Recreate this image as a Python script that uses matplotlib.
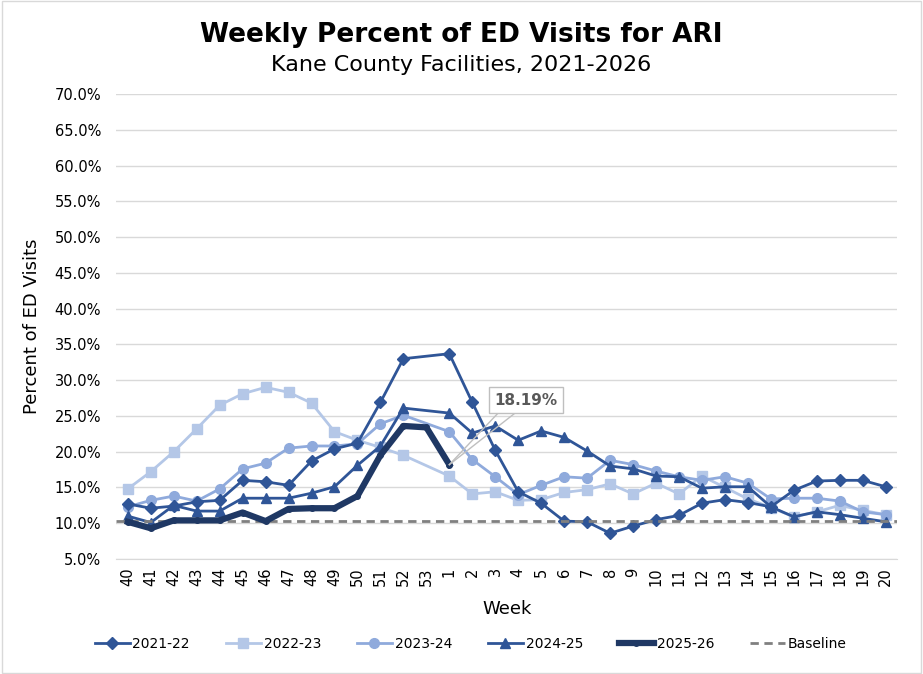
import numpy as np
import matplotlib.pyplot as plt

weeks = ['40', '41', '42', '43', '44', '45', '46', '47', '48', '49', '50', '51', '52', '53',
         '1', '2', '3', '4', '5', '6', '7', '8', '9', '10', '11', '12', '13', '14', '15',
         '16', '17', '18', '19', '20']

nan = np.nan
s2122 = [12.7, 12.1, 12.4, 13.0, 13.2, 16.0, 15.8, 15.3, 18.7, 20.4, 21.2, 26.9, 33.0, nan,
         33.7, 26.9, 20.2, 14.4, 12.8, 10.3, 10.2, 8.6, 9.6, 10.5, 11.1, 12.8, 13.3, 12.9, 12.3,
         14.6, 15.9, 16.0, 16.0, 15.1]
s2223 = [14.8, 17.2, 20.0, 23.2, 26.5, 28.1, 29.0, 28.3, 26.8, 22.8, 21.6, 20.6, 19.5, nan,
         16.6, 14.1, 14.4, 13.2, 13.3, 14.3, 14.7, 15.5, 14.1, 15.6, 14.1, 16.6, 15.0, 13.4, 12.2,
         10.9, 11.6, 12.5, 11.8, 11.2]
s2324 = [12.3, 13.2, 13.8, 13.1, 14.8, 17.6, 18.4, 20.5, 20.8, 20.8, 21.1, 23.9, 25.1, nan,
         22.8, 18.9, 16.5, 14.0, 15.3, 16.5, 16.3, 18.8, 18.2, 17.3, 16.5, 16.0, 16.5, 15.6, 13.4,
         13.5, 13.5, 13.1, 11.6, 11.2]
s2425 = [11.0, 10.1, 12.5, 11.7, 11.7, 13.5, 13.5, 13.5, 14.2, 15.1, 18.1, 20.8, 26.1, nan,
         25.4, 22.6, 23.6, 21.6, 22.9, 22.0, 20.1, 18.0, 17.6, 16.6, 16.5, 14.9, 15.1, 15.1, 12.3,
         10.9, 11.6, 11.2, 10.7, 10.2]
s2526 = [10.2, 9.3, 10.4, 10.4, 10.4, 11.5, 10.3, 12.0, 12.1, 12.1, 13.8, 19.5, 23.6, 23.4,
         18.19]
baseline = 10.3

x = np.arange(len(weeks))

plt.rcParams['font.family'] = ['DejaVu Sans']
fig = plt.figure(figsize=(9.23, 6.74), dpi=100)
ax = fig.add_axes([0.126, 0.1706, 0.846, 0.6899])

def draw(vals, color, marker, ms, lw, label, z):
    v = np.array(vals, dtype=float)
    xx = x[:len(v)]
    ok = ~np.isnan(v)
    ax.plot(xx[ok], v[ok], color=color, marker=marker, markersize=ms, linewidth=lw,
            label=label, zorder=z)

draw(s2122, '#2F5597', 'D', 6.5, 2.0, '2021-22', 3)
draw(s2223, '#B4C7E7', 's', 7, 2.0, '2022-23', 2)
draw(s2324, '#8FAADC', 'o', 7, 2.0, '2023-24', 2.5)
draw(s2425, '#2F5597', '^', 7, 2.0, '2024-25', 3.5)
draw(s2526, '#1F3864', 'o', 4, 4.5, '2025-26', 5)
ax.plot([-0.5, len(weeks) - 0.5], [baseline, baseline], color='#808080', linestyle='--',
        linewidth=2.0, dashes=(3, 2), label='Baseline', zorder=4)

# callout for the latest value: two thin lines from the label box to the point
last_i = len(s2526) - 1
last_v = s2526[-1]
box_x, box_y = last_i + 3.35, 27.2
for bx in (last_i + 2.3, last_i + 3.1):
    ax.plot([bx, last_i], [box_y - 1.2, last_v], color='#BFBFBF', lw=1, zorder=6)
ax.text(box_x, box_y, f'{last_v:.2f}%', ha='center', va='center',
        fontsize=11, fontweight='bold', color='#595959', zorder=7,
        bbox=dict(boxstyle='square,pad=0.35', fc='white', ec='#BFBFBF', lw=1))

ax.set_xlim(-0.5, len(weeks) - 0.5)
ax.set_ylim(5, 70)
ax.set_yticks(np.arange(5, 70.1, 5))
ax.set_yticklabels([f'{v:.1f}%' for v in np.arange(5, 70.1, 5)], fontsize=10.5)
ax.set_xticks(x)
ax.set_xticklabels(weeks, rotation=90, fontsize=10.5)
ax.tick_params(axis='x', length=0, pad=6)
ax.tick_params(axis='y', length=0, pad=11)
ax.grid(axis='y', color='#D9D9D9', linewidth=1)
ax.set_axisbelow(True)
for sp in ax.spines.values():
    sp.set_visible(False)
ax.spines['bottom'].set_visible(True)
ax.spines['bottom'].set_color('#D9D9D9')

ax.set_xlabel('Week', fontsize=13, labelpad=10)
ax.set_ylabel('Percent of ED Visits', fontsize=13, labelpad=10)

fig.text(0.5, 0.948, 'Weekly Percent of ED Visits for ARI', ha='center', va='center',
         fontsize=19, fontweight='bold')
fig.text(0.5, 0.903, 'Kane County Facilities, 2021-2026', ha='center', va='center',
         fontsize=16)

fig.legend(loc='center', bbox_to_anchor=(0.51, 0.045), ncol=6, frameon=False,
           fontsize=10, handlelength=2.5, columnspacing=2.6, handletextpad=0.2)

fig.patches.append(plt.Rectangle((0.002, 0.002), 0.996, 0.996, transform=fig.transFigure,
                                 fill=False, ec='#D9D9D9', lw=1))

plt.savefig('out.png', dpi=100)
